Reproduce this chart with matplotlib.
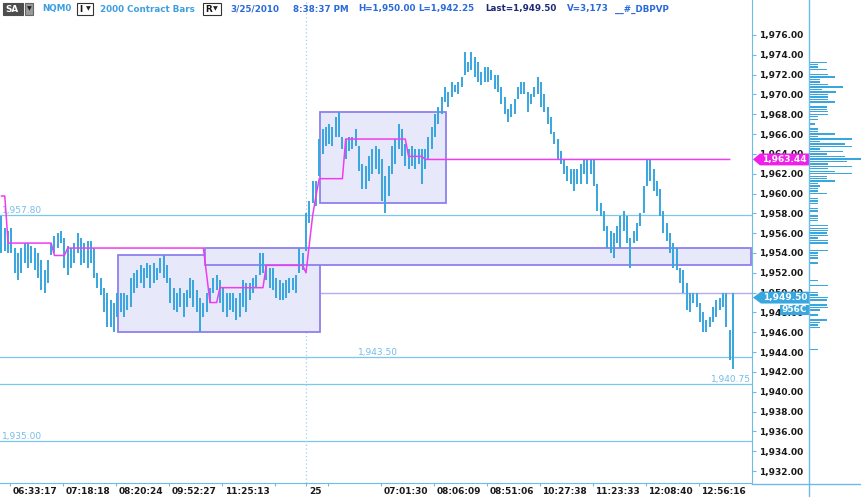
import matplotlib.pyplot as plt
import numpy as np
from matplotlib.patches import Rectangle, Polygon
from matplotlib.lines import Line2D
from matplotlib.transforms import Affine2D, ScaledTranslation

plt.rcParams['font.family'] = ['DejaVu Sans']

# ---- data: 2000 contract bars (high / low per bar) ----
highs = [1957.75, 1956.5, 1956.25, 1956.5, 1954.5, 1954.0, 1954.5, 1955.0, 1955.0, 1954.75,
         1954.5, 1954.0, 1953.25, 1952.25, 1953.25, 1955.0, 1955.75, 1956.0, 1956.25, 1955.5,
         1954.75, 1954.5, 1955.0, 1956.0, 1955.5, 1955.0, 1955.25, 1955.25, 1954.5, 1952.0,
         1951.5, 1950.5, 1950.0, 1949.25, 1949.0, 1950.0, 1950.0, 1950.0, 1949.75, 1951.5,
         1952.0, 1952.25, 1952.75, 1952.5, 1953.0, 1952.75, 1953.0, 1952.5, 1953.5, 1953.75,
         1952.75, 1951.5, 1950.5, 1950.0, 1950.5, 1950.0, 1950.25, 1951.5, 1951.25, 1950.25,
         1949.5, 1949.0, 1950.0, 1950.5, 1951.5, 1951.75, 1951.25, 1950.5, 1950.0, 1950.0,
         1950.0, 1949.5, 1950.0, 1951.25, 1951.0, 1951.0, 1951.5, 1951.75, 1954.0, 1954.0,
         1952.75, 1952.5, 1952.5, 1951.5, 1951.25, 1951.0, 1951.25, 1951.5, 1951.5, 1951.75,
         1954.5, 1954.0, 1958.0, 1959.25, 1961.25, 1961.25, 1965.5, 1966.5, 1966.75, 1967.0,
         1966.75, 1967.75, 1968.25, 1965.75, 1965.5, 1965.75, 1965.75, 1966.5, 1964.75, 1963.0,
         1962.75, 1963.75, 1964.5, 1964.75, 1964.5, 1963.5, 1961.75, 1962.75, 1964.75, 1965.5,
         1967.0, 1966.5, 1965.0, 1964.5, 1964.75, 1964.5, 1964.5, 1964.5, 1964.5, 1965.75,
         1966.75, 1968.0, 1968.75, 1969.75, 1970.75, 1970.25, 1971.25, 1971.0, 1971.25, 1971.75,
         1974.25, 1973.25, 1974.25, 1973.75, 1973.25, 1972.25, 1972.75, 1972.75, 1972.5, 1972.0,
         1972.0, 1970.75, 1969.75, 1968.5, 1969.0, 1969.5, 1970.75, 1971.25, 1971.25, 1970.25,
         1970.0, 1970.75, 1971.75, 1971.25, 1970.0, 1968.75, 1967.75, 1966.25, 1965.5, 1964.25,
         1963.5, 1962.75, 1962.5, 1962.5, 1962.5, 1963.0, 1963.5, 1963.5, 1963.5, 1963.5,
         1961.0, 1959.0, 1958.25, 1956.75, 1956.25, 1956.0, 1956.75, 1957.75, 1958.25, 1957.75,
         1955.5, 1956.25, 1957.0, 1958.0, 1960.75, 1963.5, 1963.5, 1962.5, 1961.25, 1960.5,
         1958.25, 1957.0, 1956.0, 1955.0, 1954.5, 1952.5, 1952.25, 1951.0, 1950.0, 1950.0,
         1950.0, 1949.0, 1948.0, 1947.25, 1947.5, 1948.5, 1949.25, 1949.5, 1950.0, 1950.0,
         1946.25, 1950.0]
lows = [1954.0, 1954.25, 1954.0, 1954.0, 1952.0, 1951.25, 1952.0, 1953.0, 1952.5, 1953.0,
        1952.25, 1951.5, 1950.25, 1950.0, 1951.0, 1953.75, 1954.0, 1954.5, 1955.0, 1952.5,
        1951.75, 1952.5, 1953.0, 1954.0, 1952.75, 1953.0, 1952.5, 1953.0, 1951.5, 1950.5,
        1949.75, 1948.0, 1946.5, 1946.5, 1946.0, 1947.5, 1948.0, 1947.5, 1948.25, 1948.5,
        1950.0, 1950.5, 1951.0, 1950.5, 1951.5, 1950.5, 1951.0, 1951.25, 1952.0, 1951.5,
        1951.0, 1949.0, 1948.25, 1948.0, 1948.5, 1947.5, 1948.5, 1949.5, 1948.5, 1948.0,
        1946.0, 1947.5, 1948.0, 1949.0, 1950.0, 1950.25, 1949.0, 1948.0, 1947.5, 1948.25,
        1948.0, 1947.25, 1947.5, 1948.5, 1948.0, 1949.25, 1950.0, 1950.5, 1951.75, 1952.0,
        1951.25, 1950.5, 1950.25, 1949.5, 1949.25, 1949.25, 1949.5, 1950.0, 1950.25, 1950.0,
        1952.0, 1952.25, 1954.25, 1957.0, 1959.0, 1958.75, 1961.75, 1964.0, 1964.75, 1965.0,
        1964.75, 1965.75, 1965.75, 1964.5, 1963.5, 1964.25, 1964.5, 1964.75, 1962.25, 1960.5,
        1960.5, 1961.25, 1962.0, 1962.5, 1962.0, 1959.25, 1958.0, 1959.75, 1962.0, 1963.0,
        1964.5, 1963.75, 1962.75, 1962.5, 1962.75, 1962.5, 1963.0, 1961.0, 1962.5, 1963.5,
        1964.5, 1965.75, 1967.0, 1968.0, 1969.25, 1968.75, 1969.75, 1970.25, 1970.0, 1970.75,
        1972.0, 1972.25, 1972.5, 1971.75, 1971.25, 1971.0, 1971.25, 1971.25, 1971.5, 1970.5,
        1970.25, 1969.0, 1968.0, 1967.25, 1967.75, 1968.0, 1969.5, 1970.0, 1970.0, 1968.25,
        1969.0, 1969.75, 1970.0, 1968.75, 1968.25, 1967.0, 1966.0, 1965.0, 1963.5, 1963.0,
        1962.0, 1961.25, 1961.0, 1960.25, 1961.0, 1961.0, 1962.0, 1961.0, 1962.0, 1960.75,
        1958.25, 1957.75, 1956.25, 1954.5, 1954.0, 1953.5, 1955.0, 1954.5, 1956.25, 1955.0,
        1952.5, 1955.0, 1955.25, 1956.75, 1958.0, 1960.75, 1961.25, 1960.25, 1959.75, 1957.75,
        1956.0, 1955.25, 1954.0, 1952.5, 1952.25, 1951.0, 1950.0, 1948.25, 1948.0, 1949.0,
        1948.5, 1947.0, 1946.0, 1946.0, 1946.5, 1947.0, 1947.5, 1948.25, 1948.5, 1946.5,
        1943.25, 1942.25]

# developing value line (bar index, price)
pink_bar = [0, 1, 2, 15, 16, 19, 20, 61, 63, 65, 66, 79, 80, 91, 92, 94, 95, 96, 103, 104,
            122, 123, 127, 128, 220]
pink_val = [1959.75, 1959.75, 1955.0, 1955.0, 1953.75, 1953.75, 1954.5, 1954.5, 1949.0, 1949.0,
            1950.5, 1950.5, 1952.75, 1952.75, 1952.0, 1957.75, 1959.75, 1961.5, 1961.5, 1965.5,
            1965.5, 1963.75, 1963.75, 1963.44, 1963.44]

# zones
box_left = [35.2, 61.5, 96.2]
box_right = [96.2, 226.4, 134.3]
box_low = [1946.0, 1952.75, 1959.0]
box_high = [1953.75, 1954.5, 1968.25]

levels = [1957.80, 1943.50, 1940.75, 1935.00]
level_text = ['1,957.80', '1,943.50', '1,940.75', '1,935.00']

tick_pos = [2.6, 18.6, 34.6, 50.6, 66.6, 82.6, 92.0, 98.6, 114.6, 130.6, 146.6, 162.6,
            178.6, 194.6, 210.6]
tick_lab = ['06:33:17', '07:18:18', '08:20:24', '09:52:27', '11:25:13', '', '25', '',
            '07:01:30', '08:06:09', '08:51:06', '10:27:38', '11:23:33', '12:08:40', '12:56:16']

# volume profile, 0.25 steps down from 1973.25
profile_top = 1973.25
profile_vol = [17, 8, 8, 17, 0, 18, 25, 10, 10, 18,
               33, 12, 26, 18, 18, 18, 25, 0, 17, 17,
               18, 18, 8, 8, 0, 5, 0, 8, 8, 25,
               8, 42, 10, 35, 42, 10, 33, 17, 35, 52,
               37, 18, 42, 18, 25, 42, 17, 17, 25, 8,
               10, 8, 8, 17, 0, 8, 8, 8, 0, 8,
               8, 0, 8, 8, 8, 0, 18, 18, 18, 17,
               18, 8, 18, 18, 0, 0, 18, 8, 8, 8,
               0, 8, 0, 0, 0, 0, 0, 0, 8, 0,
               18, 0, 0, 8, 8, 18, 17, 0, 17, 18,
               10, 0, 8, 0, 17, 10, 8, 10, 0, 0,
               0, 0, 0, 0, 0, 0, 8]

BLUE = '#38a6df'
AXBLUE = '#6cbbe8'
PINK = '#f03cf0'

W, H = 862, 497
fig = plt.figure(figsize=(W / 100, H / 100), dpi=100)
pix = Affine2D().scale(1 / W, -1 / H).translate(0, 1) + fig.transFigure

ax = fig.add_axes([0, 14 / H, 752 / W, 483 / H])
ax.set_xlim(-0.45, 226.75)
ax.set_ylim(1930.79, 1979.53)

idx = np.arange(len(highs))
ax.vlines(idx, lows, highs, color=BLUE, lw=1.4, zorder=4)

for l, r, lo, hi in zip(box_left, box_right, box_low, box_high):
    ax.add_patch(Rectangle((l, lo), r - l, hi - lo, fc='#e8e8fb', ec='#8c80ee', lw=1.3, zorder=2))

ax.plot(pink_bar, pink_val, color=PINK, lw=1.1, zorder=5)

for lv in levels:
    ax.axhline(lv, color='#7fc6ee', lw=0.9, zorder=1)
ax.hlines(1950.0, box_right[0], 226.75, color='#b8abf4', lw=1.0, zorder=1)
ax.axvline(92.0, color='#9fd0f0', lw=0.9, ls=(0, (1, 2)), zorder=1)

lab_kw = dict(color='#74bde8', fontsize=6.5, va='bottom')
ax.text(0.2, levels[0] + 0.05, level_text[0], ha='left', **lab_kw)
ax.text(113.7, levels[1] + 0.05, level_text[1], ha='center', **lab_kw)
ax.text(226.5, levels[2] + 0.05, level_text[2], ha='right', **lab_kw)
ax.text(0.2, levels[3] + 0.05, level_text[3], ha='left', **lab_kw)

# axes styling
for s in ['top', 'left']:
    ax.spines[s].set_visible(False)
for s in ['bottom', 'right']:
    ax.spines[s].set_color(AXBLUE)
yt = np.arange(1932, 1977, 2)
ax.yaxis.tick_right()
ax.set_yticks(yt)
ax.set_yticklabels(['{:,.2f}'.format(v) for v in yt])
ax.set_xticks(tick_pos)
ax.set_xticklabels(tick_lab)
ax.tick_params(axis='both', colors=AXBLUE, labelcolor='#1a1a1a', labelsize=6.5,
               length=2.9, width=0.8, pad=2.5)
ax.tick_params(axis='x', length=2.2, pad=0.6)
for lab in ax.get_xticklabels() + ax.get_yticklabels():
    lab.set_fontweight('bold')
for lab in ax.get_xticklabels():
    lab.set_ha('left')
    lab.set_transform(lab.get_transform() + ScaledTranslation(2 / 72, 0, fig.dpi_scale_trans))

# price markers on the axis
yax = ax.get_yaxis_transform()
def tag(price, txt, color, x0, x1):
    hh = 0.6
    ax.add_patch(Polygon([(753 / 752, price), (x0 / 752, price + hh), (x1 / 752, price + hh),
                          (x1 / 752, price - hh), (x0 / 752, price - hh)],
                         closed=True, fc=color, ec='none', transform=yax, clip_on=False, zorder=6))
    ax.text((x0 + x1) / 2 / 752, price, txt, transform=yax, color='white', fontsize=6.5,
            fontweight='bold', ha='center', va='center', zorder=7, clip_on=False)

tag(1963.44, '1,963.44', '#f020ea', 760, 809)
tag(1949.5, '1,949.50', BLUE, 761, 809)
ax.add_patch(Rectangle((780 / 752, 1947.7), 29 / 752, 1.1, fc=BLUE, ec='none',
                       transform=yax, clip_on=False, zorder=6))
ax.text(794.5 / 752, 1948.25, '956C', transform=yax, color='white', fontsize=6.5,
        fontweight='bold', ha='center', va='center', zorder=7, clip_on=False)

# volume profile panel
pax = fig.add_axes([810 / W, 14 / H, 52 / W, 483 / H])
pax.set_xlim(0, 52)
pax.set_ylim(1930.79, 1979.53)
prof_price = profile_top - 0.25 * np.arange(len(profile_vol))
pax.barh(prof_price, profile_vol, height=0.14, left=0, color=BLUE)
pax.axis('off')

fig.add_artist(Line2D([809.5, 809.5], [0, 497], transform=pix, color=AXBLUE, lw=1.0))
fig.add_artist(Line2D([752, 862], [483.5, 483.5], transform=pix, color=AXBLUE, lw=1.0))

# header
def hbox(x0, x1, fc, ec):
    fig.add_artist(Rectangle((x0, 15), x1 - x0, -12, transform=pix, fc=fc, ec=ec, lw=0.8))

def htxt(x, s, color, size=6.3):
    fig.text(x, 9, s, transform=pix, color=color, fontsize=size, fontweight='bold',
             ha='left', va='center')

hbox(3, 23, '#4d4d4d', '#4d4d4d')
htxt(5.5, 'SA', 'white')
hbox(25, 33, '#9a9a9a', '#666666')
fig.text(29, 9, '\u25bc', transform=pix, fontsize=4.5, color='#222222', ha='center', va='center')
htxt(42, 'NQM0', '#3d9fe2')
hbox(77, 93, 'white', '#333333')
htxt(79.5, 'I', '#111111')
fig.text(88, 9, '\u25bc', transform=pix, fontsize=4.5, color='#222222', ha='center', va='center')
htxt(100, '2000 Contract Bars', '#3d9fe2')
hbox(203, 221, 'white', '#333333')
htxt(205, 'R', '#111111')
fig.text(215.5, 9, '\u25bc', transform=pix, fontsize=4.5, color='#222222', ha='center', va='center')
htxt(230, '3/25/2010', '#2a6ada')
htxt(293, '8:38:37 PM', '#2a6ada')
htxt(358, 'H=1,950.00', '#2a6ada')
htxt(418, 'L=1,942.25', '#2a6ada')
htxt(485, 'Last=1,949.50', '#1c2a78')
htxt(567, 'V=3,173', '#2a6ada')
htxt(615, '__#_DBPVP', '#2a6ada')

fig.savefig('out.png', dpi=100, facecolor='white')
